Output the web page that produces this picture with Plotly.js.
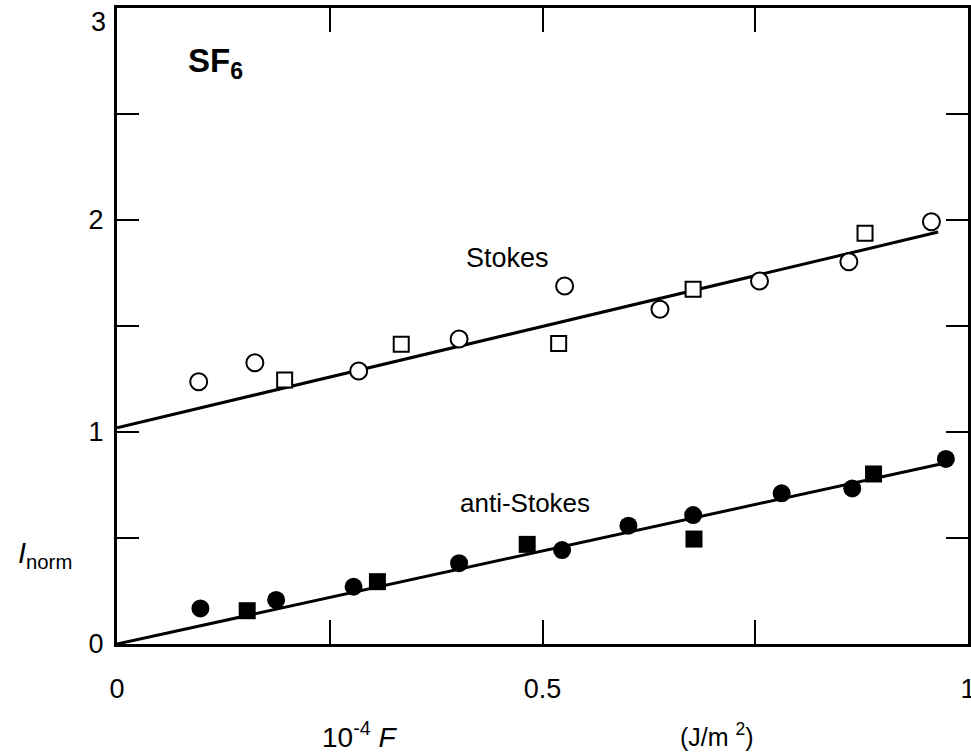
<!DOCTYPE html>
<html>
<head>
<meta charset="utf-8">
<script src="https://cdn.plot.ly/plotly-3.0.1.min.js"></script>
<style>html,body{margin:0;padding:0;background:#fff;}#chart{width:971px;height:753px;}</style>
</head>
<body>
<div id="chart"></div>
<script>
// Stokes, open circles
const stokesCircleX = [0.096, 0.162, 0.284, 0.402, 0.526, 0.638, 0.755, 0.860, 0.957];
const stokesCircleY = [1.237, 1.327, 1.288, 1.439, 1.689, 1.579, 1.712, 1.803, 1.992];
// Stokes, open squares
const stokesSquareX = [0.197, 0.334, 0.519, 0.677, 0.879];
const stokesSquareY = [1.245, 1.414, 1.418, 1.673, 1.937];
// anti-Stokes, filled circles
const antiCircleX = [0.098, 0.187, 0.278, 0.402, 0.523, 0.601, 0.677, 0.781, 0.864, 0.974];
const antiCircleY = [0.168, 0.208, 0.270, 0.381, 0.443, 0.558, 0.608, 0.711, 0.734, 0.873];
// anti-Stokes, filled squares
const antiSquareX = [0.153, 0.306, 0.482, 0.678, 0.889];
const antiSquareY = [0.157, 0.294, 0.470, 0.495, 0.802];
// fitted lines (endpoints)
const stokesFitX = [0.0, 0.965];
const stokesFitY = [1.02, 1.943];
const antiFitX = [0.0, 0.98];
const antiFitY = [0.0, 0.86];
// tick labels
const xTickVals = [0, 0.5, 1];
const xTickText = ['0', '0.5', '1'];
const xMinorVals = [0.25, 0.75];
const yTickVals = [0, 1, 2];
const yTickText = ['0', '1', '2'];
const yTopLabel = '3';
const yMinorVals = [0.5, 1.5, 2.5];

const FONT = "Liberation Sans, Arial, sans-serif";

const traces = [
  {x: stokesFitX, y: stokesFitY, mode: 'lines', line: {color: '#000', width: 3}, showlegend: false, cliponaxis: false},
  {x: antiFitX, y: antiFitY, mode: 'lines', line: {color: '#000', width: 3}, showlegend: false, cliponaxis: false},
  {x: stokesCircleX, y: stokesCircleY, mode: 'markers', showlegend: false, cliponaxis: false,
   marker: {symbol: 'circle', size: 17, color: '#fff', line: {color: '#000', width: 2}}},
  {x: stokesSquareX, y: stokesSquareY, mode: 'markers', showlegend: false, cliponaxis: false,
   marker: {symbol: 'square', size: 15, color: '#fff', line: {color: '#000', width: 2}}},
  {x: antiCircleX, y: antiCircleY, mode: 'markers', showlegend: false, cliponaxis: false,
   marker: {symbol: 'circle', size: 18, color: '#000', line: {color: '#000', width: 0}}},
  {x: antiSquareX, y: antiSquareY, mode: 'markers', showlegend: false, cliponaxis: false,
   marker: {symbol: 'square', size: 17, color: '#000', line: {color: '#000', width: 0}}}
];

const ann = (x, y, text, size, xref, yref) => ({
  x: x, y: y, xref: xref || 'paper', yref: yref || 'paper', text: text, showarrow: false,
  xanchor: 'center', yanchor: 'middle', font: {family: FONT, size: size, color: '#000'}
});

const layout = {
  width: 971, height: 753,
  margin: {l: 117, r: 3, t: 8, b: 109},
  paper_bgcolor: '#fff', plot_bgcolor: '#fff',
  font: {family: FONT, size: 27, color: '#000'},
  showlegend: false,
  xaxis: {
    range: [0, 1], showgrid: false, zeroline: false,
    showline: true, linecolor: '#000', linewidth: 3, mirror: 'ticks',
    ticks: 'inside', ticklen: 24, tickwidth: 2, tickcolor: '#000',
    tickmode: 'array', tickvals: xTickVals, ticktext: xTickText,
    ticklabelstandoff: 19, ticklabeloverflow: 'allow',
    minor: {tickvals: xMinorVals, ticks: 'inside', ticklen: 24, tickwidth: 2, tickcolor: '#000', showgrid: false},
    tickfont: {family: FONT, size: 27, color: '#000'}
  },
  yaxis: {
    range: [0, 3], showgrid: false, zeroline: false,
    showline: true, linecolor: '#000', linewidth: 3, mirror: 'ticks',
    ticks: 'inside', ticklen: 22, tickwidth: 2, tickcolor: '#000',
    tickmode: 'array', tickvals: yTickVals, ticktext: yTickText,
    ticklabelstandoff: 5, ticklabeloverflow: 'allow',
    minor: {tickvals: yMinorVals, ticks: 'inside', ticklen: 22, tickwidth: 2, tickcolor: '#000', showgrid: false},
    tickfont: {family: FONT, size: 27, color: '#000'}
  },
  annotations: [
    ann(-0.022, 0.978, yTopLabel, 27),
    ann(0.116, 2.74, '<b>SF<sub>6</sub></b>', 33, 'x', 'y'),
    ann(0.459, 1.82, 'Stokes', 27, 'x', 'y'),
    ann(0.479, 0.665, 'anti-Stokes', 26, 'x', 'y'),
    ann(0.285, -0.143, '10<sup>-4</sup> <i>F</i>', 28),
    ann(0.705, -0.143, '(J/m <sup>2</sup>)', 25),
    ann(-0.0846, 0.140, '<i>I</i><sub>norm</sub>', 29)
  ]
};

Plotly.newPlot('chart', traces, layout, {displayModeBar: false, staticPlot: true});
</script>
</body>
</html>
